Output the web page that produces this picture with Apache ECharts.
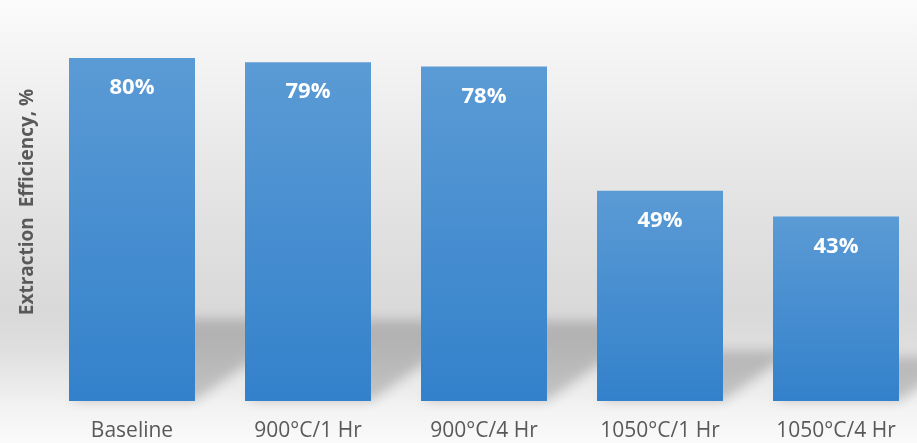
<!DOCTYPE html>
<html>
<head>
<meta charset="utf-8">
<style>
  html, body { margin: 0; padding: 0; }
  #chart { width: 917px; height: 443px; }
</style>
<script src="https://cdn.jsdelivr.net/npm/echarts@6/dist/echarts.min.js"></script>
</head>
<body>
<div id="chart"></div>
<script>
// Extraction efficiency after each heat treatment
const categories = ['Baseline', '900°C/1 Hr', '900°C/4 Hr', '1050°C/1 Hr', '1050°C/4 Hr'];
const efficiency = [80, 79, 78, 49, 43];
const axisTitle = 'Extraction  Efficiency, %';

const BAR_WIDTH = 126;
const SHADOW_HEIGHT = 0.24;   // shadow height relative to bar height
const SHADOW_SKEW = 1.4;      // horizontal lean of the cast shadow
const OFF = 3000;             // shape drawn off-canvas, only its blurred shadow shows

const chart = echarts.init(document.getElementById('chart'), null, { renderer: 'canvas' });

chart.setOption({
  animation: false,
  backgroundColor: new echarts.graphic.LinearGradient(0, 0, 0, 1, [
    { offset: 0.00, color: '#fbfbfb' },
    { offset: 0.22, color: '#efefef' },
    { offset: 0.48, color: '#e2e2e2' },
    { offset: 0.70, color: '#d9d9d9' },
    { offset: 0.78, color: '#dedede' },
    { offset: 0.88, color: '#ececec' },
    { offset: 0.92, color: '#f3f3f3' },
    { offset: 1.00, color: '#fafafa' }
  ]),
  grid: {
    left: 44, width: 880, top: 15, bottom: 42,
    containLabel: false,
    outerBoundsMode: 'none'
  },
  xAxis: {
    type: 'category',
    data: categories,
    axisLine: { show: false },
    axisTick: { show: false },
    axisLabel: {
      color: '#595959',
      fontFamily: 'Open Sans',
      fontSize: 21,
      margin: 20
    }
  },
  yAxis: {
    type: 'value',
    min: 0,
    max: 90,
    show: true,
    axisLine: { show: false },
    axisTick: { show: false },
    axisLabel: { show: false },
    splitLine: { show: false },
    name: axisTitle,
    nameLocation: 'middle',
    nameRotate: 90,
    nameGap: 7,
    nameTextStyle: {
      color: '#595959',
      fontFamily: 'Open Sans',
      fontWeight: 'bold',
      fontSize: 19,
      padding: [0, 0, 0, 12]
    }
  },
  series: [
    {
      // soft perspective shadow cast to the right of each bar
      type: 'custom',
      z: 1,
      silent: true,
      data: efficiency.map((v, i) => [i, v]),
      renderItem: function (params, api) {
        const top = api.coord([api.value(0), api.value(1)]);
        const base = api.coord([api.value(0), 0]);
        const half = BAR_WIDTH / 2;
        const xl = top[0] - half, xr = top[0] + half;
        const y0 = base[1];
        const hs = SHADOW_HEIGHT * (base[1] - top[1]);
        const dx = SHADOW_SKEW * hs;
        return {
          type: 'polygon',
          shape: {
            points: [
              [xl - OFF, y0],
              [xr - OFF, y0],
              [xr + dx - OFF, y0 - hs],
              [xl + dx - OFF, y0 - hs]
            ]
          },
          style: {
            fill: '#000',
            shadowColor: 'rgba(0,0,0,0.19)',
            shadowBlur: 12,
            shadowOffsetX: OFF,
            shadowOffsetY: 0
          }
        };
      }
    },
    {
      type: 'bar',
      z: 3,
      data: efficiency,
      barWidth: BAR_WIDTH,
      itemStyle: {
        color: new echarts.graphic.LinearGradient(0, 0, 0, 1, [
          { offset: 0, color: '#5b9bd5' },
          { offset: 1, color: '#3381cb' }
        ])
      },
      label: {
        show: true,
        position: 'insideTop',
        distance: 19,
        formatter: '{c}%',
        color: '#ffffff',
        fontFamily: 'Open Sans',
        fontWeight: 'bold',
        fontSize: 22
      }
    }
  ]
});
</script>
</body>
</html>
